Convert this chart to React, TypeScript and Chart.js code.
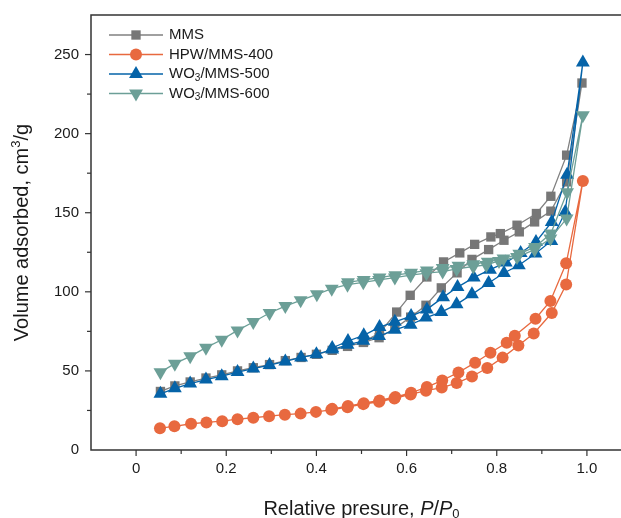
import React, { useEffect, useRef } from 'react';
import { Chart, registerables } from 'chart.js';

Chart.register(...registerables);

const FONT = '"Liberation Sans", Arial, Helvetica, sans-serif';

// Axis ticks
const xTickLabels = ['0', '0.2', '0.4', '0.6', '0.8', '1.0'];
const yTickLabels = [0, 50, 100, 150, 200, 250];

// MMS
const mmsAdsP = [0.054, 0.086, 0.120, 0.155, 0.190, 0.225, 0.260, 0.296, 0.331, 0.366, 0.400, 0.435, 0.469, 0.504, 0.539, 0.574, 0.609, 0.643, 0.677, 0.712, 0.745, 0.782, 0.816, 0.850, 0.884, 0.920, 0.955, 0.989];
const mmsAdsV = [37, 40.5, 43, 45.5, 47.5, 50, 52, 54, 56.5, 58.5, 60.5, 63, 65.5, 68, 71, 77, 84, 91.5, 102.5, 112, 120.5, 126.7, 132.6, 137.9, 144.2, 151, 169.5, 232];
const mmsDesP = [0.955, 0.920, 0.888, 0.845, 0.808, 0.787, 0.751, 0.718, 0.682, 0.645, 0.608, 0.578, 0.540, 0.505];
const mmsDesV = [186.4, 160.4, 149.5, 142.1, 136.8, 134.7, 130, 124.6, 118.9, 109.4, 97.8, 87.2, 74, 68.5];

// HPW/MMS-400
const hpwAdsP = [0.053, 0.085, 0.122, 0.156, 0.191, 0.225, 0.260, 0.295, 0.330, 0.365, 0.399, 0.433, 0.469, 0.504, 0.539, 0.573, 0.609, 0.643, 0.678, 0.711, 0.745, 0.779, 0.813, 0.848, 0.882, 0.922, 0.954, 0.991];
const hpwAdsV = [13.8, 15, 16.6, 17.4, 18.2, 19.5, 20.4, 21.4, 22.3, 23, 24.1, 25.4, 27.1, 29, 30.5, 32.6, 35.1, 37.5, 39.5, 42.3, 46.5, 51.8, 58.4, 66, 73.7, 86.6, 104.6, 170];
const hpwDesP = [0.954, 0.919, 0.886, 0.840, 0.822, 0.786, 0.752, 0.715, 0.679, 0.645, 0.610, 0.575, 0.540, 0.505, 0.470, 0.435];
const hpwDesV = [118, 94.2, 83, 72.3, 67.8, 61.5, 55.2, 49, 44, 39.8, 36.2, 33.5, 31.3, 29.6, 27.8, 26];

// WO3/MMS-500
const w500AdsP = [0.054, 0.086, 0.120, 0.155, 0.190, 0.225, 0.260, 0.296, 0.331, 0.366, 0.400, 0.435, 0.469, 0.504, 0.539, 0.574, 0.609, 0.643, 0.677, 0.711, 0.745, 0.782, 0.816, 0.849, 0.886, 0.921, 0.952, 0.991];
const w500AdsV = [35.5, 39, 42, 44.5, 46.7, 49.3, 51.5, 53.7, 56, 58.5, 60.5, 63.5, 66.5, 69, 72, 76, 79.2, 83.7, 87.2, 92.1, 98.4, 105.6, 111.9, 116.8, 124.2, 132.2, 150.5, 245];
const w500DesP = [0.956, 0.922, 0.887, 0.853, 0.820, 0.785, 0.749, 0.713, 0.681, 0.645, 0.610, 0.574, 0.540, 0.505, 0.470, 0.435];
const w500DesV = [174, 144.2, 131.5, 124.5, 118.5, 114, 109, 103, 96.5, 88.9, 84.7, 81, 77.7, 72.5, 68.9, 64.5];

// WO3/MMS-600
const w600AdsP = [0.054, 0.086, 0.120, 0.155, 0.190, 0.225, 0.260, 0.296, 0.331, 0.365, 0.401, 0.434, 0.469, 0.504, 0.539, 0.574, 0.609, 0.644, 0.680, 0.711, 0.748, 0.777, 0.805, 0.845, 0.884, 0.919, 0.955, 0.991];
const w600AdsV = [49.2, 54.6, 59.2, 64.7, 69.7, 75.6, 80.9, 86.6, 91, 94.6, 98.4, 102, 104.5, 106, 107.5, 109, 110.5, 111.8, 112.8, 114.5, 116, 117, 119.5, 122, 126.7, 133.7, 146.3, 211.7];
const w600DesP = [0.956, 0.920, 0.885, 0.850, 0.815, 0.780, 0.748, 0.715, 0.680, 0.645, 0.610, 0.575, 0.540, 0.505, 0.470];
const w600DesV = [163, 136.8, 128.4, 124, 121, 119, 117.5, 116.5, 115, 113.5, 112, 110.5, 109, 107.5, 106];

const seriesNames = ['MMS', 'HPW/MMS-400', 'WO₃/MMS-500', 'WO₃/MMS-600'];
const seriesColors = ['#777777', '#E8693F', '#0563A8', '#6C9F97'];
const lineColors = ['#808080', '#E8693F', '#0563A8', '#6C9F97'];
const seriesShapes = ['rect', 'circle', 'triangle', 'triangle'];
const seriesRot = [0, 0, 0, 180];
const seriesRadius = [6.6, 6, 8, 8];

function toPoints(ap: number[], av: number[], dp: number[], dv: number[]) {
  const pts = ap.map((p, i) => ({ x: p, y: av[i] }));
  dp.forEach((p, i) => pts.push({ x: p, y: dv[i] }));
  return pts;
}

const seriesData = [
  toPoints(mmsAdsP, mmsAdsV, mmsDesP, mmsDesV),
  toPoints(hpwAdsP, hpwAdsV, hpwDesP, hpwDesV),
  toPoints(w500AdsP, w500AdsV, w500DesP, w500DesV),
  toPoints(w600AdsP, w600AdsV, w600DesP, w600DesV),
];

function drawMarker(ctx: CanvasRenderingContext2D, shape: string, x: number, y: number, r: number, rotDeg: number, color: string) {
  ctx.save();
  ctx.fillStyle = color;
  ctx.beginPath();
  if (shape === 'circle') {
    ctx.arc(x, y, r, 0, Math.PI * 2);
  } else if (shape === 'rect') {
    const s = Math.SQRT1_2 * r;
    ctx.rect(x - s, y - s, 2 * s, 2 * s);
  } else {
    let rad = (rotDeg * Math.PI) / 180;
    ctx.moveTo(x + Math.sin(rad) * r, y - Math.cos(rad) * r);
    rad += (2 * Math.PI) / 3;
    ctx.lineTo(x + Math.sin(rad) * r, y - Math.cos(rad) * r);
    rad += (2 * Math.PI) / 3;
    ctx.lineTo(x + Math.sin(rad) * r, y - Math.cos(rad) * r);
    ctx.closePath();
  }
  ctx.fill();
  ctx.restore();
}

function drawRich(ctx: CanvasRenderingContext2D, parts: { t: string; style?: string; size: number; dy?: number }[], x: number, y: number, align: 'left' | 'center') {
  let total = 0;
  const widths = parts.map((p) => {
    ctx.font = `${p.style || ''} ${p.size}px ${FONT}`;
    const w = ctx.measureText(p.t).width;
    total += w;
    return w;
  });
  let cx = align === 'center' ? x - total / 2 : x;
  parts.forEach((p, i) => {
    ctx.font = `${p.style || ''} ${p.size}px ${FONT}`;
    ctx.fillText(p.t, cx, y + (p.dy || 0));
    cx += widths[i];
  });
}

const decorPlugin = {
  id: 'decor',
  afterDraw(chart: any) {
    const { ctx, chartArea: a, scales } = chart;
    const xs = scales.x;
    const ys = scales.y;
    ctx.save();
    ctx.strokeStyle = '#333333';
    ctx.lineWidth = 1.5;
    ctx.beginPath();
    ctx.moveTo(a.left, a.bottom);
    ctx.lineTo(a.left, a.top);
    ctx.lineTo(a.right, a.top);
    ctx.lineTo(a.right, a.bottom);
    ctx.closePath();
    ctx.stroke();

    ctx.lineWidth = 1.2;
    xs.ticks.forEach((t: any) => {
      const k = Math.round(t.value * 10);
      if (k < 0 || k > 10) return;
      const px = xs.getPixelForValue(t.value);
      const len = k % 2 === 0 ? 6 : 4;
      ctx.beginPath();
      ctx.moveTo(px, a.bottom);
      ctx.lineTo(px, a.bottom + len);
      ctx.stroke();
    });
    ys.ticks.forEach((t: any) => {
      const v = Math.round(t.value);
      if (v <= 0 || v >= 275) return;
      const py = ys.getPixelForValue(t.value);
      const len = v % 50 === 0 ? 6 : 4;
      ctx.beginPath();
      ctx.moveTo(a.left, py);
      ctx.lineTo(a.left - len, py);
      ctx.stroke();
    });

    // Legend
    ctx.textBaseline = 'middle';
    ctx.textAlign = 'left';
    ctx.fillStyle = '#1a1a1a';
    const rowY = [35, 54.5, 74, 93.5];
    seriesNames.forEach((name, i) => {
      const y = rowY[i];
      ctx.strokeStyle = lineColors[i];
      ctx.lineWidth = 1.3;
      ctx.beginPath();
      ctx.moveTo(109, y);
      ctx.lineTo(163, y);
      ctx.stroke();
      drawMarker(ctx, seriesShapes[i], 136, y, seriesRadius[i], seriesRot[i], seriesColors[i]);
      ctx.fillStyle = '#1a1a1a';
      if (name.includes('₃')) {
        const [a1, a2] = name.split('₃');
        drawRich(ctx, [
          { t: a1, size: 15 },
          { t: '3', size: 10, dy: 4 },
          { t: a2, size: 15 },
        ], 169, y, 'left');
      } else {
        ctx.font = `15px ${FONT}`;
        ctx.fillText(name, 169, y);
      }
    });

    // X title
    ctx.fillStyle = '#1a1a1a';
    ctx.textBaseline = 'middle';
    drawRich(ctx, [
      { t: 'Relative presure, ', size: 20 },
      { t: 'P', size: 20, style: 'italic' },
      { t: '/', size: 20 },
      { t: 'P', size: 20, style: 'italic' },
      { t: '0', size: 13, dy: 5 },
    ], (a.left + a.right) / 2, 509, 'center');

    // Y title
    ctx.save();
    ctx.translate(22, (a.top + a.bottom) / 2);
    ctx.rotate(-Math.PI / 2);
    drawRich(ctx, [
      { t: 'Volume adsorbed, cm', size: 20 },
      { t: '3', size: 13, dy: -6 },
      { t: '/g', size: 20 },
    ], 0, 0, 'center');
    ctx.restore();

    ctx.restore();
  },
};

export default function App() {
  const ref = useRef<HTMLCanvasElement | null>(null);
  useEffect(() => {
    if (!ref.current) return;
    const order = [4, 3, 2, 1];
    const chart = new Chart(ref.current, {
      type: 'scatter',
      data: {
        datasets: seriesNames.map((name, i) => ({
          label: name,
          data: seriesData[i],
          showLine: true,
          borderColor: lineColors[i],
          borderWidth: 1.3,
          backgroundColor: seriesColors[i],
          pointBackgroundColor: seriesColors[i],
          pointBorderColor: seriesColors[i],
          pointBorderWidth: 0,
          pointStyle: seriesShapes[i] as any,
          pointRotation: seriesRot[i],
          pointRadius: seriesRadius[i],
          tension: 0,
          order: order[i],
        })),
      },
      options: {
        animation: false,
        responsive: false,
        events: [],
        layout: { padding: { top: 15, left: 0, right: 6, bottom: 0 } },
        plugins: {
          legend: { display: false },
          tooltip: { enabled: false },
        },
        scales: {
          x: {
            type: 'linear',
            min: -0.1,
            max: 1.1,
            grid: { display: false, drawTicks: false },
            border: { display: false },
            ticks: {
              stepSize: 0.1,
              autoSkip: false,
              maxRotation: 0,
              padding: 10,
              color: '#1a1a1a',
              font: { family: FONT, size: 15 },
              callback: (v: any) => {
                const k = Math.round(Number(v) * 10);
                if (k < 0 || k > 10 || k % 2 !== 0) return '';
                return xTickLabels[k / 2];
              },
            },
            afterFit: (s: any) => {
              s.height = 68;
              s.paddingLeft = 0;
              s.paddingRight = 0;
            },
          },
          y: {
            type: 'linear',
            min: 0,
            max: 275,
            grid: { display: false, drawTicks: false },
            border: { display: false },
            ticks: {
              stepSize: 25,
              autoSkip: false,
              padding: 12,
              color: '#1a1a1a',
              font: { family: FONT, size: 15 },
              callback: (v: any) => {
                const n = Math.round(Number(v));
                return yTickLabels.includes(n) ? String(n) : '';
              },
            },
            afterFit: (s: any) => {
              s.width = 91;
              s.paddingTop = 0;
              s.paddingBottom = 0;
            },
          },
        },
      },
      plugins: [decorPlugin],
    });
    return () => chart.destroy();
  }, []);

  return (
    <div style={{ position: 'absolute', left: 0, top: 0, width: 621, height: 518, overflow: 'hidden', background: '#fff' }}>
      <canvas ref={ref} width={640} height={518} style={{ display: 'block', width: 640, height: 518 }} />
    </div>
  );
}
